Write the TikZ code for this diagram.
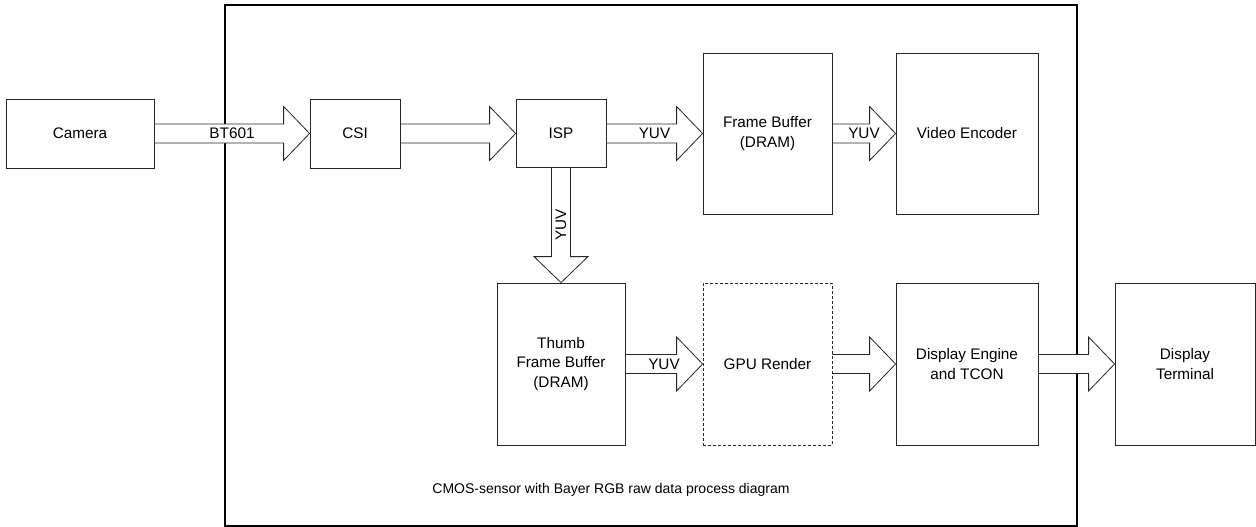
\documentclass[tikz,border=0pt]{standalone}
\usepackage{fontspec}
\setmainfont{Liberation Sans}
\usetikzlibrary{calc}
\pgfdeclarelayer{back}
\pgfsetlayers{back,main}
\def\blkarrow[#1](#2)(#3)#4{%
	\coordinate (hb) at ($(#3)!26pt!(#2)$);
	\draw[blk] ($(#2)!9.5pt!90:(#3)$) -- ($(hb)!9.5pt!90:(#3)$) -- ($(hb)!27pt!90:(#3)$) -- (#3) -- ($(hb)!27pt!-90:(#3)$) -- ($(hb)!9.5pt!-90:(#3)$) -- ($(#2)!9.5pt!-90:(#3)$);
	\node[lbl,#1] at ($(#2)!0.5!(#3)$) {#4};}
\tikzset{
	box/.style={draw=black!85, line width=0.8pt, align=center, inner sep=0pt, font=\fontsize{15.3}{19.5}\selectfont},
	blk/.style={draw=black!85, fill=white, line width=0.8pt, line join=miter},
	lbl/.style={inner sep=0pt, font=\fontsize{15.3}{19.5}\selectfont}
}

\begin{document}
\begin{tikzpicture}[x=1pt, y=-1pt]
			%%%%% START %%%%%
			\useasboundingbox (0, 0) rectangle (1256, 527);
			
			\node[box, minimum width=148, minimum height=69] (camera) at (80, 133.5) {Camera};
			\node[box, minimum width=90, minimum height=69] (csi) at (355, 133.5) {CSI};
			\node[box, minimum width=90, minimum height=68] (isp) at (561, 133.5) {ISP};
			\node[box, minimum width=129, minimum height=161] (fb) at (767.5, 133.5) {Frame Buffer\\(DRAM)};
			\node[box, minimum width=142, minimum height=161] (venc) at (967, 133.5) {Video Encoder};
			
			\node[box, minimum width=128, minimum height=162] (thumb) at (561, 364) {Thumb\\Frame Buffer\\(DRAM)};
			\node[box, dashed, dash pattern=on 3pt off 2pt, minimum width=129, minimum height=162] (gpu) at (767.5, 364) {GPU Render};
			\node[box, minimum width=142, minimum height=162] (de) at (967, 364) {Display Engine\\and TCON};
			\node[box, minimum width=140, minimum height=162] (term) at (1185, 364) {Display\\Terminal};
			
			\node[inner sep=0pt, font=\fontsize{14}{16}\selectfont] (caption) at (611, 490) {CMOS-sensor with Bayer RGB raw data process diagram};
			
			\begin{pgfonlayer}{back}
			\draw[line width=1.6pt] (225, 5) rectangle (1077, 526);
			
			\blkarrow[](camera.east)(csi.west){BT601}
			\blkarrow[](csi.east)(isp.west){}
			\blkarrow[](isp.east)(fb.west){YUV}
			\blkarrow[](fb.east)(venc.west){YUV}
			\blkarrow[rotate=90](isp.south)(thumb.north){YUV}
			\blkarrow[](thumb.east)(gpu.west){YUV}
			\blkarrow[](gpu.east)(de.west){}
			\blkarrow[](de.east)(term.west){}
			\end{pgfonlayer}
			
			%%%%% END %%%%%
\end{tikzpicture}
\end{document}
